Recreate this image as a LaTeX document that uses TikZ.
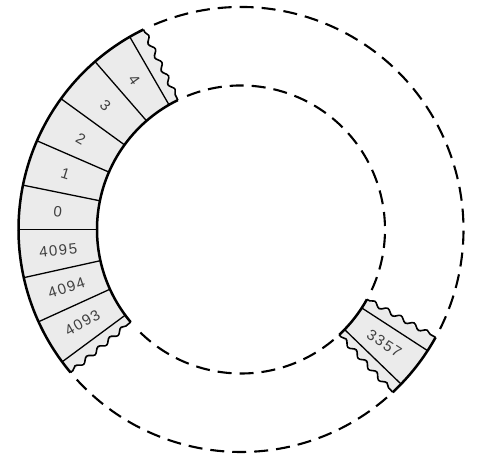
\documentclass[tikz,border=0pt]{standalone}
\usepackage{fontspec}
\setsansfont{Liberation Sans}
\usetikzlibrary{decorations.pathmorphing}
\begin{document}
\begin{tikzpicture}[x=1pt,y=1pt,
  tape/.style={fill=black!8},
  edge/.style={line width=2.5pt},
  cellline/.style={line width=1.3pt},
  torn/.style={line width=1.6pt, decorate, decoration={snake, amplitude=2.2pt, segment length=15pt, pre length=3pt, post length=3pt}},
  dashring/.style={line width=2.1pt, dash pattern=on 14pt off 8pt},
  lbl/.style={font=\sffamily\fontsize{15}{16}\selectfont\addfontfeature{LetterSpace=10}, text=black!75, inner sep=0pt}]
\useasboundingbox (-241,-229.5) rectangle (236,229.5);
\def\rOut{222.5}
\def\rIn{144}
% dashed rings
\draw[dashring] (113:\rOut) arc[start angle=113, end angle=-27, radius=\rOut];
\draw[dashring] (-49:\rOut) arc[start angle=-49, end angle=-138, radius=\rOut];
\draw[dashring] (112:\rIn) arc[start angle=112, end angle=-26, radius=\rIn];
\draw[dashring] (-50:\rIn) arc[start angle=-50, end angle=-137, radius=\rIn];
% left tape
\fill[tape] (116:\rOut) arc[start angle=116, end angle=220, radius=\rOut] -- (220:\rIn) arc[start angle=220, end angle=116, radius=\rIn] -- cycle;
\draw[edge] (116:\rOut) arc[start angle=116, end angle=220, radius=\rOut];
\draw[edge] (116:\rIn) arc[start angle=116, end angle=220, radius=\rIn];
\draw[torn] (116:\rOut) -- (116:\rIn);
\draw[torn] (220:\rOut) -- (220:\rIn);
\foreach \a in {120,131,144,156.5,168.5,180,192.5,204.5,216.5}
  \draw[cellline] (\a:\rOut) -- (\a:\rIn);
\node[lbl, rotate=-54.5] (c4) at (125.5:184) {4};
\node[lbl, rotate=-42.5] (c3) at (137.5:184) {3};
\node[lbl, rotate=-29.5] (c2) at (150.5:184) {2};
\node[lbl, rotate=-17.5] (c1) at (162.5:184) {1};
\node[lbl, rotate=-5.5] (c0) at (174.5:184) {0};
\node[lbl, rotate=6.5] (c4095) at (186.5:184) {4095};
\node[lbl, rotate=18.5] (c4094) at (198.5:184) {4094};
\node[lbl, rotate=30] (c4093) at (210.5:184) {4093};
% right tape piece
\fill[tape] (-29:\rOut) arc[start angle=-29, end angle=-47, radius=\rOut] -- (-47:\rIn) arc[start angle=-47, end angle=-29, radius=\rIn] -- cycle;
\draw[edge] (-29:\rOut) arc[start angle=-29, end angle=-47, radius=\rOut];
\draw[edge] (-29:\rIn) arc[start angle=-29, end angle=-47, radius=\rIn];
\draw[torn] (-29:\rIn) -- (-29:\rOut);
\draw[torn] (-47:\rIn) -- (-47:\rOut);
\draw[cellline] (-33:\rOut) -- (-33:\rIn);
\draw[cellline] (-44:\rOut) -- (-44:\rIn);
\node[lbl, rotate=-33] (c3357) at (-38.5:183) {3357};
\end{tikzpicture}
\end{document}
